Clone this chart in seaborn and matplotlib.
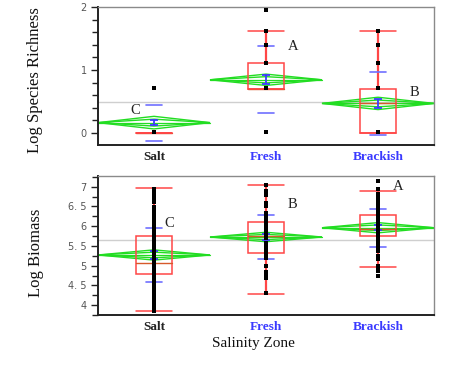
import matplotlib
matplotlib.use("Agg")
import matplotlib.pyplot as plt
from matplotlib.patches import Polygon, Rectangle
from matplotlib.ticker import MultipleLocator, FixedLocator, FixedFormatter
import seaborn as sns
import pandas as pd

# ---------------- data ----------------
zones = ["Salt", "Fresh", "Brackish"]

# Log species richness raw points
rich_salt = [0.02, 0.02, 0.02, 0.02, 0.02, 0.02, 0.02, 0.71, 0.71]
rich_fresh = [0.02, 0.72, 0.72, 0.72, 0.72, 1.11, 1.11, 1.39, 1.62, 1.95]
rich_brackish = [0.02, 0.02, 0.02, 0.02, 0.71, 0.71, 1.11, 1.39, 1.62]

# Log biomass raw points
bio_salt = [6.95, 6.87, 6.79, 6.70, 6.62, 6.49, 6.43, 6.37, 6.28, 6.20, 6.11,
            6.03, 5.97, 5.93, 5.88, 5.85, 5.81, 5.76, 5.72, 5.69, 5.63, 5.58,
            5.55, 5.50, 5.44, 5.41, 5.36, 5.32, 5.27, 5.22, 5.19, 5.14, 5.09,
            5.05, 5.01, 4.96, 4.92, 4.87, 4.83, 4.78, 4.74, 4.70, 4.66, 4.61,
            4.56, 4.51, 4.43, 4.34, 4.27, 4.21, 4.13, 4.06, 4.00, 3.92, 3.85]
bio_fresh = [7.04, 6.88, 6.84, 6.79, 6.59, 6.55, 6.50, 6.33, 6.28, 6.24, 6.20,
             6.15, 6.11, 6.03, 5.98, 5.94, 5.90, 5.85, 5.81, 5.77, 5.73, 5.70,
             5.57, 5.53, 5.48, 5.44, 5.39, 5.35, 5.27, 5.23, 5.19, 5.00, 4.85,
             4.81, 4.76, 4.72, 4.68, 4.30]
bio_brackish = [7.15, 6.93, 6.82, 6.78, 6.73, 6.69, 6.64, 6.60, 6.57, 6.52,
                6.48, 6.45, 6.40, 6.36, 6.33, 6.28, 6.25, 6.20, 6.17, 6.12,
                6.08, 6.05, 6.00, 5.97, 5.92, 5.89, 5.84, 5.81, 5.76, 5.73,
                5.68, 5.65, 5.60, 5.50, 5.45, 5.41, 5.37, 5.24, 5.20, 5.16,
                4.99, 4.94, 4.90, 4.86, 4.74]

# summary statistics
rich_q1 = [0.0, 0.70, 0.0]
rich_med = [0.0, 0.70, 0.48]
rich_q3 = [0.0, 1.11, 0.70]
rich_lo = [0.0, 0.70, 0.0]
rich_hi = [0.0, 1.62, 1.62]
rich_mean = [0.165, 0.845, 0.47]
rich_ci = [0.10, 0.09, 0.098]
rich_sd = [0.285, 0.535, 0.50]
rich_se = [0.04, 0.07, 0.077]
rich_grand = 0.49
rich_letters = ["C", "A", "B"]

bio_q1 = [4.79, 5.33, 5.76]
bio_med = [5.07, 5.75, 5.94]
bio_q3 = [5.74, 6.11, 6.29]
bio_lo = [3.84, 4.28, 4.96]
bio_hi = [6.96, 7.03, 6.89]
bio_mean = [5.27, 5.725, 5.96]
bio_ci = [0.13, 0.12, 0.13]
bio_sd = [0.685, 0.545, 0.48]
bio_se = [0.09, 0.07, 0.06]
bio_grand = 5.66
bio_letters = ["C", "B", "A"]

# ---------------- styling ----------------
sns.set_style("white")
plt.rcParams["font.family"] = ["DejaVu Sans"]

RED = "#ff4646"
GREEN = "#22dd22"
BLUE = "#3a3aff"
LBLUE = "#7070ff"
SERIF = "Liberation Serif"

fig = plt.figure(figsize=(4.5, 3.65), dpi=100)
ax1 = fig.add_axes([98 / 450, 1 - 145 / 365, 336 / 450, 138 / 365])
ax2 = fig.add_axes([98 / 450, 1 - 315 / 365, 336 / 450, 139 / 365])


def draw_panel(ax, groups, q1, med, q3, lo, hi, mean, ci, sd, se, grand, letters, letter_pos):
    df = pd.DataFrame({
        "zone": [z for z, g in zip(zones, groups) for _ in g],
        "val": [v for g in groups for v in g],
    })
    ax.axhline(grand, color="#cfcfcf", lw=1.0, zorder=1)
    for i in range(3):
        m, h = mean[i], ci[i]
        for frac in (1.0, 0.55):
            ax.add_patch(Polygon([(i - 0.5, m), (i, m + h * frac), (i + 0.5, m), (i, m - h * frac)],
                                 closed=True, fill=False, ec=GREEN, lw=1.0, zorder=2))
        ax.plot([i - 0.5, i + 0.5], [m, m], color=GREEN, lw=0.9, zorder=2)
        # quantile box
        bw = 0.33
        ax.add_patch(Rectangle((i - bw / 2, q1[i]), bw, q3[i] - q1[i], fill=False,
                               ec=RED, lw=1.1, zorder=3))
        ax.plot([i - bw / 2, i + bw / 2], [med[i], med[i]], color="#d65a2a", lw=1.0, zorder=3)
        ax.plot([i, i], [q3[i], hi[i]], color=RED, lw=1.6, zorder=3)
        ax.plot([i, i], [lo[i], q1[i]], color=RED, lw=1.6, zorder=3)
        ax.plot([i - bw / 2, i + bw / 2], [hi[i], hi[i]], color=RED, lw=1.1, zorder=3)
        ax.plot([i - bw / 2, i + bw / 2], [lo[i], lo[i]], color=RED, lw=1.1, zorder=3)
        # std dev lines
        for s in (mean[i] + sd[i], mean[i] - sd[i]):
            ax.plot([i - 0.07, i + 0.07], [s, s], color=LBLUE, lw=1.2, zorder=4)
        # standard error bar
        ax.errorbar([i], [mean[i]], yerr=[se[i]], color=BLUE, lw=1.3, capsize=3,
                    capthick=1.3, zorder=5)
    sns.stripplot(data=df, x="zone", y="val", order=zones, jitter=False, color="black",
                  marker="s", size=2.5, linewidth=0, ax=ax, zorder=6)
    for (lx, ly), t in zip(letter_pos, letters):
        ax.text(lx, ly, t, family=SERIF, fontsize=10.5, color="#222222",
                ha="center", va="center", zorder=7)

    ax.set_xlim(-0.5, 2.5)
    ax.set_xlabel("")
    ax.set_ylabel("")
    ax.set_xticks([0, 1, 2])
    ax.set_xticklabels(zones)
    ax.tick_params(axis="x", length=0, pad=4)
    ax.xaxis.set_minor_locator(FixedLocator([0.5, 1.5]))
    ax.tick_params(axis="x", which="minor", length=4, width=1, color="#333333", direction="out")
    for lab, c in zip(ax.get_xticklabels(), ["#222222", BLUE, BLUE]):
        lab.set_color(c)
        lab.set_fontfamily(SERIF)
        lab.set_fontweight("bold")
        lab.set_fontsize(9.5)
    ax.tick_params(axis="y", which="major", length=5, width=1, color="#222222",
                   direction="out", pad=3, labelsize=7, labelcolor="#555555")
    ax.tick_params(axis="y", which="minor", length=4, width=1, color="#222222", direction="out")
    ax.tick_params(left=True, which="both")
    for sp in ("left", "bottom"):
        ax.spines[sp].set_color("#222222")
        ax.spines[sp].set_linewidth(1.4)
    for sp in ("top", "right"):
        ax.spines[sp].set_color("#8a8a8a")
        ax.spines[sp].set_linewidth(1.0)


draw_panel(ax1, [rich_salt, rich_fresh, rich_brackish], rich_q1, rich_med, rich_q3, rich_lo,
           rich_hi, rich_mean, rich_ci, rich_sd, rich_se, rich_grand, rich_letters,
           [(-0.17, 0.35), (1.24, 1.38), (2.33, 0.65)])
ax1.set_ylim(-0.19, 2.0)
ax1.yaxis.set_major_locator(FixedLocator([0, 1, 2]))
ax1.yaxis.set_major_formatter(FixedFormatter(["0", "1", "2"]))
ax1.yaxis.set_minor_locator(MultipleLocator(0.2))

draw_panel(ax2, [bio_salt, bio_fresh, bio_brackish], bio_q1, bio_med, bio_q3, bio_lo,
           bio_hi, bio_mean, bio_ci, bio_sd, bio_se, bio_grand, bio_letters,
           [(0.14, 6.07), (1.24, 6.54), (2.18, 7.0)])
ax2.set_ylim(3.75, 7.27)
ax2.yaxis.set_major_locator(FixedLocator([4, 4.5, 5, 5.5, 6, 6.5, 7]))
ax2.yaxis.set_major_formatter(FixedFormatter(["4", "4. 5", "5", "5. 5", "6", "6. 5", "7"]))
ax2.yaxis.set_minor_locator(MultipleLocator(0.25))

fig.text(35 / 450, 1 - 80 / 365, "Log Species Richness", rotation=90, ha="center",
         va="center", family=SERIF, fontsize=12, color="#111111")
fig.text(36 / 450, 1 - 253 / 365, "Log Biomass", rotation=90, ha="center",
         va="center", family=SERIF, fontsize=12, color="#111111")
fig.text(253 / 450, 1 - 344 / 365, "Salinity Zone", ha="center", va="center",
         family=SERIF, fontsize=11, color="#111111")

fig.savefig("out.png", dpi=100)
